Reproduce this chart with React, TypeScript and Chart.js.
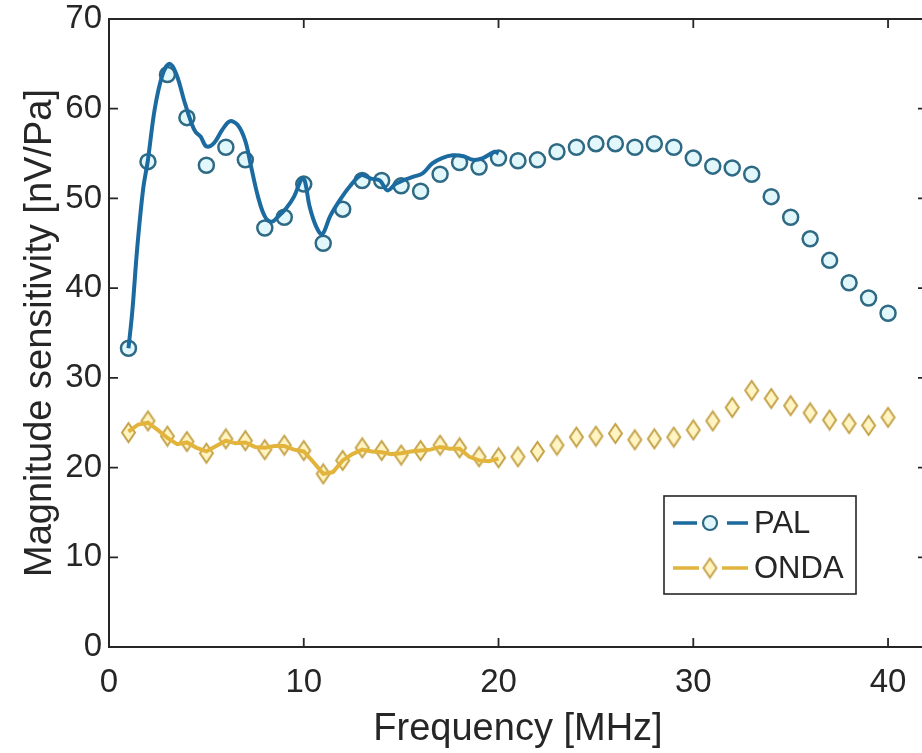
import React, { useEffect, useRef } from 'react';
import { Chart, registerables } from 'chart.js';

Chart.register(...registerables);

// ---- Data ----
const palFreq = [1, 2, 3, 4, 5, 6, 7, 8, 9, 10, 11, 12, 13, 14, 15, 16, 17, 18, 19, 20,
  21, 22, 23, 24, 25, 26, 27, 28, 29, 30, 31, 32, 33, 34, 35, 36, 37, 38, 39, 40];
const palMeasured = [33.3, 54.1, 63.8, 59.0, 53.7, 55.7, 54.3, 46.7, 47.9, 51.6,
  45.0, 48.8, 52.0, 52.0, 51.4, 50.8, 52.7, 54.0, 53.5, 54.5,
  54.2, 54.3, 55.2, 55.7, 56.1, 56.1, 55.7, 56.1, 55.7, 54.5,
  53.6, 53.4, 52.7, 50.2, 47.9, 45.5, 43.1, 40.6, 38.9, 37.2];

const palCurveFreq = [1.0, 1.2, 1.45, 1.75, 2.0, 2.35, 2.75, 3.1, 3.45, 3.9, 4.25, 4.45, 4.7, 5.0,
  5.4, 5.8, 6.2, 6.6, 7.0, 7.3, 7.65, 8.0, 8.35, 8.7, 9.1, 9.5, 9.9, 10.05, 10.3, 10.65, 10.95,
  11.35, 11.85, 12.35, 12.95, 13.45, 13.9, 14.3, 14.7, 15.1, 15.6, 16.1, 16.6, 17.1, 17.65,
  18.2, 18.7, 19.2, 19.8, 20.0];
const palCurveValue = [33.3, 37.5, 44.5, 51.0, 54.3, 60.0, 63.8, 65.0, 63.9, 60.6, 58.3, 57.4, 56.9, 55.8,
  56.2, 57.6, 58.6, 58.2, 56.4, 53.5, 50.2, 48.0, 47.4, 48.0, 48.9, 50.2, 52.2, 52.0, 49.1, 46.8, 46.0,
  48.0, 49.8, 51.3, 52.6, 52.2, 52.0, 50.9, 51.6, 52.0, 52.4, 52.8, 53.9, 54.5, 54.8,
  54.7, 54.3, 54.5, 55.2, 55.0];

const ondaFreq = [1, 2, 3, 4, 5, 6, 7, 8, 9, 10, 11, 12, 13, 14, 15, 16, 17, 18, 19, 20,
  21, 22, 23, 24, 25, 26, 27, 28, 29, 30, 31, 32, 33, 34, 35, 36, 37, 38, 39, 40];
const ondaMeasured = [23.9, 25.2, 23.5, 22.9, 21.6, 23.2, 23.0, 22.0, 22.5, 21.9,
  19.3, 20.8, 22.2, 21.9, 21.4, 21.9, 22.5, 22.2, 21.2, 21.1,
  21.2, 21.8, 22.5, 23.4, 23.5, 23.8, 23.1, 23.2, 23.4, 24.2,
  25.2, 26.7, 28.6, 27.7, 26.9, 26.1, 25.3, 24.9, 24.7, 25.6];

const ondaCurveFreq = [1, 1.5, 2, 2.5, 3, 3.5, 4, 4.5, 5, 5.5, 6, 6.5, 7, 7.5, 8, 8.5, 9, 9.5, 10,
  10.5, 11, 11.5, 12, 12.5, 13, 13.5, 14, 14.5, 15, 15.5, 16, 16.5, 17, 17.5, 18, 18.5, 19, 19.5, 20];
const ondaCurveValue = [24.0, 24.8, 25.0, 24.2, 23.3, 22.6, 22.8, 22.2, 21.8, 22.4, 23.0, 22.7, 22.8, 22.3,
  22.2, 22.4, 22.4, 22.0, 21.8, 20.6, 19.3, 19.5, 20.8, 21.5, 22.0, 21.8, 21.7, 21.5, 21.6, 21.8,
  21.9, 22.0, 22.3, 22.1, 22.1, 21.2, 20.8, 20.7, 21.0];

const xTickValues = [0, 10, 20, 30, 40];
const yTickValues = [0, 10, 20, 30, 40, 50, 60, 70];

const seriesNames = ['PAL', 'ONDA'];

const PAL_LINE = '#1b6aa0';
const PAL_MARK = '#2f6a84';
const PAL_FILL = '#e2f7fb';
const ONDA_LINE = '#e3b43c';
const ONDA_MARK = '#c5a34a';
const ONDA_FILL = '#fff4c2';
const AXIS = '#262626';
const FONT = '"Liberation Sans", Arial, Helvetica, sans-serif';

function makeDiamond(w: number, h: number, stroke: string, fill: string, lw: number) {
  const c = document.createElement('canvas');
  c.width = w;
  c.height = h;
  const g = c.getContext('2d')!;
  g.beginPath();
  g.moveTo(w / 2, lw);
  g.lineTo(w - lw, h / 2);
  g.lineTo(w / 2, h - lw);
  g.lineTo(lw, h / 2);
  g.closePath();
  g.fillStyle = fill;
  g.fill();
  g.strokeStyle = stroke;
  g.lineWidth = lw;
  g.stroke();
  return c;
}

export default function App() {
  const ref = useRef<HTMLCanvasElement | null>(null);

  useEffect(() => {
    if (!ref.current) return;
    document.body.style.margin = '0';
    const diamond = makeDiamond(17, 23, ONDA_MARK, ONDA_FILL, 2);

    const boxPlugin = {
      id: 'matlabBox',
      afterDraw(chart: any) {
        const { ctx, chartArea } = chart;
        const { left, right, top, bottom } = chartArea;
        const xs = chart.scales.x;
        const ys = chart.scales.y;
        ctx.save();
        ctx.strokeStyle = AXIS;
        ctx.lineWidth = 2;
        ctx.strokeRect(left, top, right - left, bottom - top);
        ctx.lineWidth = 1.8;
        const tl = 9;
        ctx.beginPath();
        xTickValues.forEach((v) => {
          const px = xs.getPixelForValue(v);
          ctx.moveTo(px, bottom);
          ctx.lineTo(px, bottom - tl);
          ctx.moveTo(px, top);
          ctx.lineTo(px, top + tl);
        });
        yTickValues.forEach((v) => {
          const py = ys.getPixelForValue(v);
          ctx.moveTo(left, py);
          ctx.lineTo(left + tl, py);
          ctx.moveTo(right, py);
          ctx.lineTo(right - tl, py);
        });
        ctx.stroke();

        // Legend
        const bx = 664, by = 496, bw = 192, bh = 98;
        ctx.fillStyle = '#ffffff';
        ctx.fillRect(bx, by, bw, bh);
        ctx.strokeStyle = AXIS;
        ctx.lineWidth = 1.6;
        ctx.strokeRect(bx, by, bw, bh);

        const rows = [by + 27, by + 72];
        // PAL entry
        ctx.lineWidth = 3.5;
        ctx.strokeStyle = PAL_LINE;
        ctx.beginPath();
        ctx.moveTo(673, rows[0]); ctx.lineTo(697, rows[0]);
        ctx.moveTo(727, rows[0]); ctx.lineTo(748, rows[0]);
        ctx.stroke();
        ctx.beginPath();
        ctx.arc(710, rows[0], 7, 0, Math.PI * 2);
        ctx.fillStyle = PAL_FILL;
        ctx.fill();
        ctx.lineWidth = 2.2;
        ctx.strokeStyle = PAL_MARK;
        ctx.stroke();
        // ONDA entry
        ctx.lineWidth = 3.5;
        ctx.strokeStyle = ONDA_LINE;
        ctx.beginPath();
        ctx.moveTo(673, rows[1]); ctx.lineTo(699, rows[1]);
        ctx.moveTo(722, rows[1]); ctx.lineTo(748, rows[1]);
        ctx.stroke();
        ctx.drawImage(diamond, 710 - diamond.width / 2, rows[1] - diamond.height / 2);

        ctx.fillStyle = AXIS;
        ctx.font = `31px ${FONT}`;
        ctx.textBaseline = 'middle';
        ctx.textAlign = 'left';
        ctx.fillText(seriesNames[0], 754, rows[0] + 1);
        ctx.fillText(seriesNames[1], 754, rows[1] + 1);
        ctx.restore();
      },
    };

    const chart = new Chart(ref.current, {
      type: 'scatter',
      data: {
        datasets: [
          {
            label: seriesNames[0] + ' curve',
            data: palCurveFreq.map((f, i) => ({ x: f, y: palCurveValue[i] })),
            showLine: true,
            borderColor: PAL_LINE,
            borderWidth: 4,
            pointRadius: 0,
            tension: 0.35,
            order: 1,
          },
          {
            label: seriesNames[0],
            data: palFreq.map((f, i) => ({ x: f, y: palMeasured[i] })),
            showLine: false,
            pointStyle: 'circle',
            pointRadius: 7.5,
            pointBorderWidth: 2.5,
            pointBorderColor: PAL_MARK,
            pointBackgroundColor: PAL_FILL,
            order: 2,
          },
          {
            label: seriesNames[1] + ' curve',
            data: ondaCurveFreq.map((f, i) => ({ x: f, y: ondaCurveValue[i] })),
            showLine: true,
            borderColor: ONDA_LINE,
            borderWidth: 4,
            pointRadius: 0,
            tension: 0,
            order: 3,
          },
          {
            label: seriesNames[1],
            data: ondaFreq.map((f, i) => ({ x: f, y: ondaMeasured[i] })),
            showLine: false,
            pointStyle: diamond as any,
            pointRadius: 9,
            order: 4,
          },
        ],
      },
      options: {
        responsive: false,
        animation: false,
        devicePixelRatio: 1,
        layout: { padding: { top: 19, right: 3, left: 0, bottom: 0 } },
        plugins: {
          legend: { display: false },
          tooltip: { enabled: false },
        },
        scales: {
          x: {
            type: 'linear',
            min: 0,
            max: 42,
            afterBuildTicks: (scale: any) => {
              scale.ticks = xTickValues.map((v) => ({ value: v }));
            },
            afterFit: (scale: any) => {
              scale.height = 106;
              scale.paddingLeft = 0;
              scale.paddingRight = 0;
            },
            grid: { display: false, drawTicks: false },
            border: { display: false },
            ticks: {
              color: AXIS,
              font: { family: FONT, size: 33 },
              padding: 16,
              maxRotation: 0,
            },
            title: {
              display: true,
              text: 'Frequency [MHz]',
              color: AXIS,
              font: { family: FONT, size: 38 },
              padding: { top: 0, bottom: 1 },
            },
          },
          y: {
            type: 'linear',
            min: 0,
            max: 70,
            afterBuildTicks: (scale: any) => {
              scale.ticks = yTickValues.map((v) => ({ value: v }));
            },
            afterFit: (scale: any) => {
              scale.width = 109;
              scale.paddingTop = 0;
              scale.paddingBottom = 0;
            },
            grid: { display: false, drawTicks: false },
            border: { display: false },
            ticks: {
              color: AXIS,
              font: { family: FONT, size: 33 },
              padding: 7,
            },
            title: {
              display: true,
              text: 'Magnitude sensitivity [nV/Pa]',
              color: AXIS,
              font: { family: FONT, size: 38 },
              padding: { top: 18, bottom: 0 },
            },
          },
        },
      },
      plugins: [boxPlugin],
    });

    return () => chart.destroy();
  }, []);

  return (
    <div
      style={{
        position: 'fixed',
        left: 0,
        top: 0,
        width: 922,
        height: 753,
        overflow: 'hidden',
        background: '#ffffff',
      }}
    >
      <canvas ref={ref} width={937} height={753} style={{ display: 'block' }} />
    </div>
  );
}
